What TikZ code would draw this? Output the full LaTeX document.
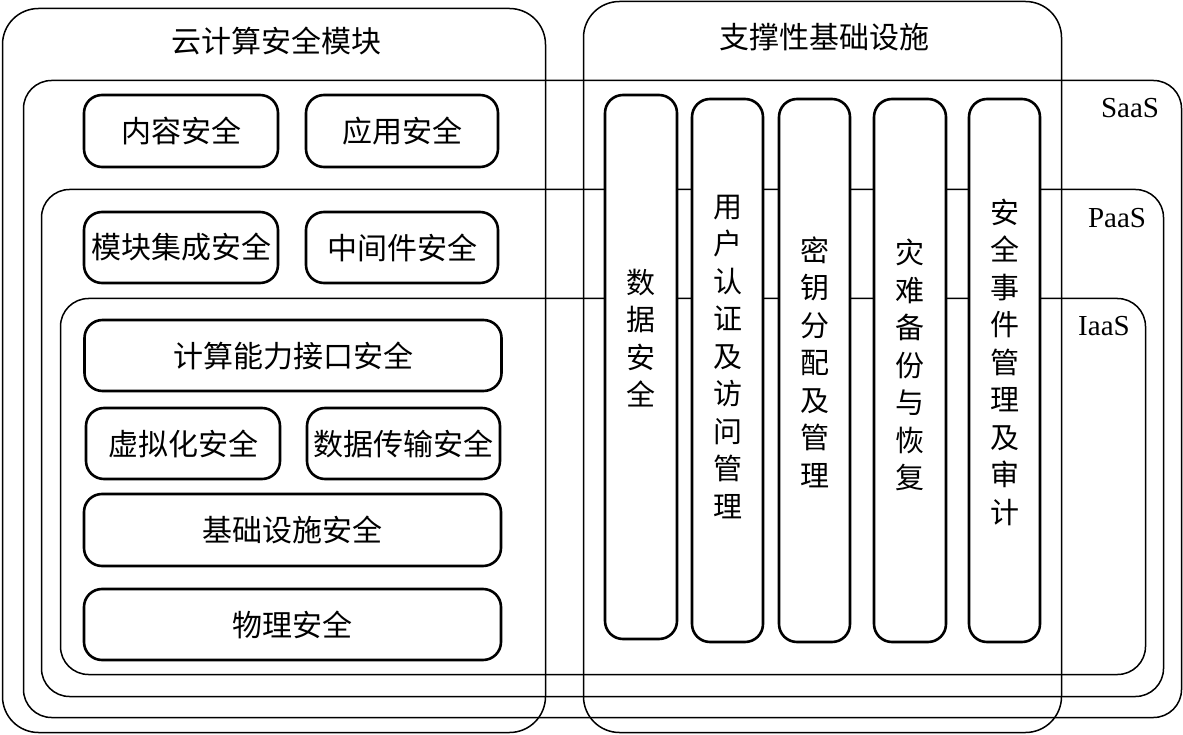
\documentclass[tikz,border=0pt]{standalone}
\usepackage{fontspec}
\setmainfont{Liberation Serif}
\newfontfamily\cjk{Noto Sans CJK SC}
\begin{document}
\begin{tikzpicture}[x=1pt,y=-1pt,
  frame/.style={draw, line width=1.5pt, rounded corners=36pt, inner sep=0pt},
  layer/.style={draw, line width=1.5pt, rounded corners=28pt, inner sep=0pt},
  item/.style={draw, line width=2.6pt, rounded corners=18pt, fill=white, inner sep=0pt,
    font=\cjk\fontsize{30}{36}\selectfont},
  pillar/.style={draw, line width=2.6pt, rounded corners=18pt, fill=white, inner sep=0pt},
  vtext/.style={align=center, inner sep=0pt, font=\cjk\fontsize{29}{37.5}\selectfont},
  title/.style={inner sep=0pt, font=\cjk\fontsize{30}{36}\selectfont},
  tag/.style={inner sep=0pt, font=\fontsize{29}{34}\selectfont}
]
\useasboundingbox (0,0) rectangle (1183,735);
% outer frames
\node[frame, minimum width=543pt, minimum height=724pt] (mod) at (274,370.5) {};
\node[frame, minimum width=478pt, minimum height=731pt] (sup) at (822.5,367) {};
% layers
\node[layer, minimum width=1158pt, minimum height=637pt] (saas) at (602.5,399) {};
\node[layer, minimum width=1122pt, minimum height=507pt] (paas) at (602.5,443) {};
\node[layer, minimum width=1085pt, minimum height=376pt] (iaas) at (603,486.5) {};
% titles
\node[title] (tmod) at (276,41) {云计算安全模块};
\node[title] (tsup) at (824,37) {支撑性基础设施};
\node[tag] (lsaas) at (1130,108) {SaaS};
\node[tag] (lpaas) at (1117,218) {PaaS};
\node[tag] (liaas) at (1104,326) {IaaS};
% left items
\node[item, minimum width=194pt, minimum height=72pt] (content) at (181,131) {内容安全};
\node[item, minimum width=192pt, minimum height=72pt] (app) at (402,131) {应用安全};
\node[item, minimum width=194pt, minimum height=71pt] (modint) at (181,247.5) {模块集成安全};
\node[item, minimum width=192pt, minimum height=71pt] (middle) at (402,247.5) {中间件安全};
\node[item, minimum width=417pt, minimum height=71pt] (api) at (293,355.5) {计算能力接口安全};
\node[item, minimum width=194pt, minimum height=71pt] (virt) at (183,443.5) {虚拟化安全};
\node[item, minimum width=193pt, minimum height=71pt] (trans) at (403.5,443.5) {数据传输安全};
\node[item, minimum width=417pt, minimum height=72pt] (infra) at (292.5,530) {基础设施安全};
\node[item, minimum width=417pt, minimum height=71pt] (phys) at (292.5,624.5) {物理安全};
% pillars
\node[pillar, minimum width=72pt, minimum height=544pt] (p1) at (641,367) {};
\node[pillar, minimum width=71pt, minimum height=543pt] (p2) at (727.5,370.5) {};
\node[pillar, minimum width=71pt, minimum height=543pt] (p3) at (814.5,370.5) {};
\node[pillar, minimum width=72pt, minimum height=543pt] (p4) at (910,370.5) {};
\node[pillar, minimum width=71pt, minimum height=543pt] (p5) at (1004.5,370.5) {};
\node[vtext] (v1) at (641,338) {数\\据\\安\\全};
\node[vtext] (v2) at (727.5,357) {用\\户\\认\\证\\及\\访\\问\\管\\理};
\node[vtext] (v3) at (814.5,362) {密\\钥\\分\\配\\及\\管\\理};
\node[vtext] (v4) at (910,365) {灾\\难\\备\\份\\与\\恢\\复};
\node[vtext] (v5) at (1004.5,362) {安\\全\\事\\件\\管\\理\\及\\审\\计};
\end{tikzpicture}
\end{document}
